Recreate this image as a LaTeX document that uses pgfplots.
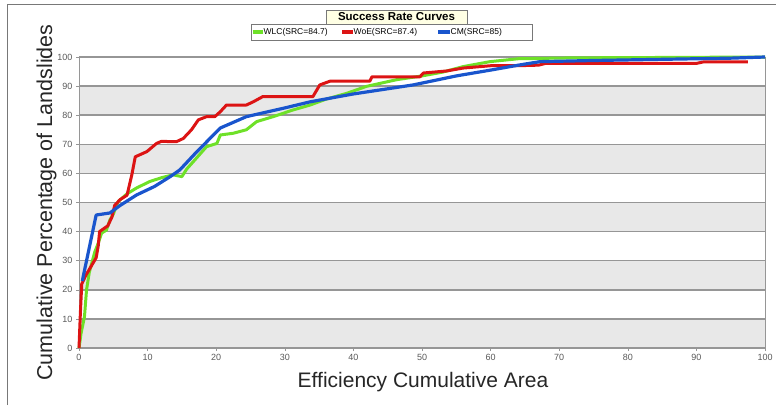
\documentclass[border=0pt]{standalone}
\usepackage{pgfplots}
\pgfplotsset{compat=1.18}
\usepackage{fontspec}
\setmainfont{Liberation Sans}
\definecolor{wlcgreen}{RGB}{110,225,40}
\definecolor{woered}{RGB}{220,20,20}
\definecolor{cmblue}{RGB}{25,85,205}
\definecolor{bandc}{RGB}{232,232,232}
\definecolor{gridc}{RGB}{150,150,150}
\definecolor{titlec}{RGB}{255,255,228}
\definecolor{framec}{RGB}{120,120,120}
\begin{document}
\begin{tikzpicture}[x=1pt,y=1pt]
\draw[framec, line width=1pt] (7,0) -- (7,400) -- (776,400);
\begin{axis}[
  at={(79pt,57pt)}, anchor=south west,
  scale only axis, width=686pt, height=291pt,
  xmin=0, xmax=100, ymin=0, ymax=100,
  xtick={0,10,...,100}, ytick={0,10,...,100},
  set layers,
  ymajorgrids, major grid style={gridc, line width=1.5pt},
  axis line style={gridc, line width=0.8pt},
  tick align=outside, major tick length=3pt,
  tick style={gridc, line width=0.6pt},
  xtick pos=bottom, ytick pos=left,
  ticklabel style={font=\fontsize{9}{9}\selectfont, text=black!65},
  /pgf/number format/assume math mode=true,
  clip=false,
]
\addplot[draw=none, fill=bandc, on layer=axis background, forget plot] coordinates {(0,0) (100,0) (100,10) (0,10) (0,0)};
\addplot[draw=none, fill=bandc, on layer=axis background, forget plot] coordinates {(0,20) (100,20) (100,30) (0,30) (0,20)};
\addplot[draw=none, fill=bandc, on layer=axis background, forget plot] coordinates {(0,40) (100,40) (100,50) (0,50) (0,40)};
\addplot[draw=none, fill=bandc, on layer=axis background, forget plot] coordinates {(0,60) (100,60) (100,70) (0,70) (0,60)};
\addplot[draw=none, fill=bandc, on layer=axis background, forget plot] coordinates {(0,80) (100,80) (100,90) (0,90) (0,80)};
\addplot[wlcgreen, line width=3pt, line join=round] coordinates {
(0,0) (0.3,5) (0.8,10.8) (1.1,20) (1.5,26) (2.3,33) (2.8,36) (3.3,39.5) (4,40.5) (4.5,44) (5,46) (5.7,50.3) (7,53) (8.4,55) (10.3,57.2) (12,58.5) (13.7,59.5) (15,58.9) (15.7,61.5) (17.1,65.2) (18.6,69.2) (20.1,70.3) (20.6,73.2) (22.5,73.8) (24.4,75) (25.9,77.8) (28.3,79.5) (31.2,81.8) (33.7,83.5) (36,85.5) (39,87.5) (41.9,89.9) (46.3,92.2) (50,93.5) (53,94.8) (56,96.7) (59.9,98.4) (64,99.4) (72,99.7) (100,100)
};
\addplot[woered, line width=3pt, line join=round] coordinates {
(0,0) (0.2,12) (0.4,22) (1,25) (2,29) (2.5,31) (2.8,35) (3,40) (3.6,41) (4.2,42) (4.8,45) (5.2,49) (6,51) (7,52.5) (7.7,59.5) (8.2,65.7) (9.9,67.5) (11.3,70.3) (12,71) (14.2,70.9) (15.2,72) (16.4,75) (17.4,78.4) (18.6,79.5) (19.8,79.5) (20.6,81.2) (21.5,83.5) (24.4,83.5) (25.4,84.6) (26.8,86.4) (34.1,86.4) (35.1,90.4) (36.6,91.7) (42.4,91.7) (42.7,93.2) (49.7,93.2) (50.2,94.5) (53.6,95.2) (56,96.2) (60,97) (64,97) (67,97.2) (68,97.8) (90,97.8) (91,98.3) (97.5,98.3)
};
\addplot[cmblue, line width=3.2pt, line join=round] coordinates {
(0.5,23) (0.6,24.4) (2.5,45.7) (4.5,46.4) (6,49) (8.4,52.6) (11,55.5) (13.3,58.9) (14.7,61.2) (17,67) (20.6,75.6) (24.4,79.5) (30,82.5) (33.7,84.6) (40,87.3) (48.7,90.4) (55,93.5) (60,95.5) (64.3,97.3) (67.2,98.4) (75,98.8) (85,99.2) (95,99.6) (100,100)
};
\end{axis}
\node[font=\fontsize{21}{21}\selectfont, anchor=base, text=black!85] at (423,18) {Efficiency Cumulative Area};
\node[font=\fontsize{21.5}{21.5}\selectfont, anchor=base, rotate=90, text=black!85] at (52,202.5) {Cumulative Percentage of Landslides};
\node[draw=framec, fill=titlec, minimum width=141pt, minimum height=14pt, inner sep=0pt, font=\bfseries\fontsize{11.5}{11.5}\selectfont] at (396.5,388) {Success Rate Curves};
\draw[framec, fill=white] (251,365) rectangle (532,381);
\draw[wlcgreen, line width=3.5pt] (252.5,373) -- (263,373);
\node[anchor=west, inner sep=0.5pt, font=\fontsize{8.5}{8.5}\selectfont] at (263,373) {WLC(SRC=84.7)};
\draw[woered, line width=3.5pt] (342,373) -- (353,373);
\node[anchor=west, inner sep=0.5pt, font=\fontsize{8.5}{8.5}\selectfont] at (353,373) {WoE(SRC=87.4)};
\draw[cmblue, line width=3.5pt] (438,373) -- (450,373);
\node[anchor=west, inner sep=0.5pt, font=\fontsize{8.5}{8.5}\selectfont] at (450,373) {CM(SRC=85)};
\pgfresetboundingbox
\useasboundingbox (0,0) rectangle (776,405);
\end{tikzpicture}
\end{document}
